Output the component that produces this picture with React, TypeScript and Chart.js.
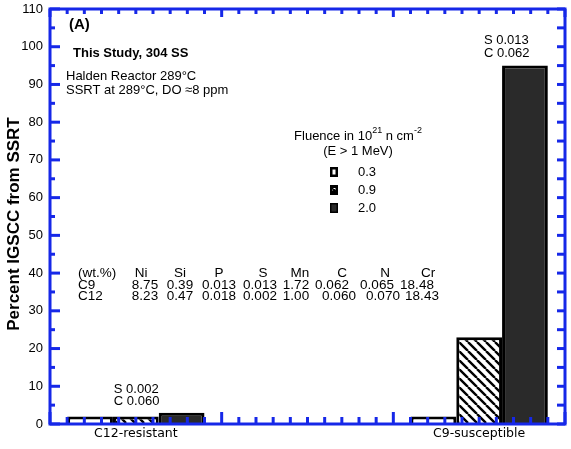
import React, { useEffect, useRef } from 'react';
import { Chart, registerables } from 'chart.js';

Chart.register(...registerables);

// ---------- data ----------
const categories = ['C12-resistant', '', 'C9-susceptible'];
const fluenceLabels = ['0.3', '0.9', '2.0'];
const igscc03 = [2, null, 2];
const igscc09 = [2, null, 23];
const igscc20 = [3, null, 95];
const yMin = 0;
const yMax = 110;
const yStep = 10;

const tableHeader = ['(wt.%)', 'Ni', 'Si', 'P', 'S', 'Mn', 'C', 'N', 'Cr'];
const tableC9 = ['C9', '8.75', '0.39', '0.013', '0.013', '1.72', '0.062', '0.065', '18.48'];
const tableC12 = ['C12', '8.23', '0.47', '0.018', '0.002', '1.00', '0.060', '0.070', '18.43'];
const noteC12 = ['S 0.002', 'C 0.060'];
const noteC9 = ['S 0.013', 'C 0.062'];
const panelLabel = '(A)';
const studyLabel = 'This Study, 304 SS';
const conditionLines = ['Halden Reactor 289°C', 'SSRT at 289°C, DO ≈8 ppm'];
const yTitle = 'Percent IGSCC from SSRT';

// ---------- styles ----------
const BLUE = 'rgb(22, 40, 232)';
const DARK = '#2a2a2a';
const FONT = '"Liberation Sans", Arial, Helvetica, sans-serif';

function makeHatch(): CanvasPattern | string {
  const c = document.createElement('canvas');
  const s = 9;
  c.width = s;
  c.height = s;
  const g = c.getContext('2d');
  if (!g) return '#fff';
  g.fillStyle = '#fff';
  g.fillRect(0, 0, s, s);
  g.strokeStyle = '#000';
  g.lineWidth = 2.4;
  g.beginPath();
  for (const off of [-s, 0, s]) {
    g.moveTo(off, 0);
    g.lineTo(off + s, s);
  }
  g.stroke();
  const p = g.createPattern(c, 'repeat');
  return p || '#fff';
}

export default function App() {
  const ref = useRef<HTMLCanvasElement | null>(null);

  useEffect(() => {
    const canvas = ref.current;
    if (!canvas) return;
    const hatch = makeHatch();

    const decor = {
      id: 'decor',
      afterDatasetsDraw(chart: any) {
        const { ctx, chartArea: a, scales } = chart;
        const xs = scales.x;
        const ys = scales.y;
        ctx.save();
        ctx.strokeStyle = BLUE;
        ctx.lineWidth = 3;
        const line = (x1: number, y1: number, x2: number, y2: number) => {
          ctx.beginPath();
          ctx.moveTo(x1, y1);
          ctx.lineTo(x2, y2);
          ctx.stroke();
        };
        for (let v = yMin; v <= yMax; v += yStep / 2) {
          const py = ys.getPixelForValue(v);
          const major = v % yStep === 0;
          line(a.left, py, a.left + (major ? 10 : 5), py);
          line(a.right, py, a.right - 8, py);
        }
        const n = categories.length * 10;
        for (let k = 0; k <= n; k++) {
          const px = xs.getPixelForDecimal(k / n);
          const major = k % 10 === 0;
          line(px, a.bottom, px, a.bottom - (major ? 12 : 7));
          line(px, a.top, px, a.top + (major ? 8 : 5));
        }
        ctx.strokeRect(a.left, a.top, a.right - a.left, a.bottom - a.top);
        ctx.restore();
      },
      afterDraw(chart: any) {
        const { ctx, scales } = chart;
        const ys = scales.y;
        ctx.save();
        ctx.fillStyle = '#000';
        ctx.textBaseline = 'middle';
        ctx.textAlign = 'left';

        // y title
        ctx.save();
        ctx.translate(14, 224);
        ctx.rotate(-Math.PI / 2);
        ctx.textAlign = 'center';
        ctx.font = `bold 17px ${FONT}`;
        ctx.fillText(yTitle, 0, 0);
        ctx.restore();

        ctx.font = `bold 15px ${FONT}`;
        ctx.fillText(panelLabel, 69, 25);
        ctx.font = `bold 13px ${FONT}`;
        ctx.fillText(studyLabel, 73, 53);
        ctx.font = `13px ${FONT}`;
        ctx.fillText(conditionLines[0], 66, 76);
        ctx.fillText(conditionLines[1], 66, 90);

        // legend title
        const big = `13px ${FONT}`;
        const small = `9px ${FONT}`;
        const parts: [string, boolean][] = [
          ['Fluence in 10', false],
          ['21', true],
          [' n cm', false],
          ['-2', true],
        ];
        let total = 0;
        for (const [t, sup] of parts) {
          ctx.font = sup ? small : big;
          total += ctx.measureText(t).width;
        }
        let lx = 358 - total / 2;
        for (const [t, sup] of parts) {
          ctx.font = sup ? small : big;
          ctx.fillText(t, lx, sup ? 131 : 136);
          lx += ctx.measureText(t).width;
        }
        ctx.font = big;
        ctx.textAlign = 'center';
        ctx.fillText('(E > 1 MeV)', 358, 151);
        ctx.textAlign = 'left';

        // legend items
        const fills = ['#fff', hatch, DARK];
        const ly = [172, 190, 208];
        fluenceLabels.forEach((lab, i) => {
          const bx = 330;
          const by = ly[i] - 5;
          ctx.fillStyle = '#000';
          ctx.fillRect(bx, by, 8, 10);
          ctx.fillStyle = fills[i] as any;
          if (i === 0) ctx.fillRect(bx + 2.5, by + 2.5, 3, 5);
          if (i === 1) ctx.fillRect(bx + 2.5, by + 3, 3, 3);
          if (i === 2) ctx.fillRect(bx + 1.5, by + 1.5, 5, 7);
          ctx.fillStyle = '#000';
          ctx.font = big;
          ctx.fillText(lab, 358, ly[i]);
        });

        // composition table
        ctx.font = `13.5px ${FONT}`;
        const colX = [0, 141, 180, 219, 263, 300, 342, 385, 428];
        const c9X = [0, 145, 180, 219, 260, 296, 332, 377, 417];
        const c12X = [0, 145, 180, 219, 260, 296, 339, 383, 422];
        const rows: [string[], number[], number][] = [
          [tableHeader, colX, 273.5],
          [tableC9, c9X, 285],
          [tableC12, c12X, 296.5],
        ];
        for (const [row, xsPos, yy] of rows) {
          row.forEach((t, j) => {
            if (j === 0) {
              ctx.textAlign = 'left';
              ctx.fillText(t, 78, yy);
            } else {
              ctx.textAlign = 'center';
              ctx.fillText(t, xsPos[j], yy);
            }
          });
        }

        // bar notes anchored to bars
        ctx.font = big;
        ctx.textAlign = 'left';
        const m20 = chart.getDatasetMeta(2);
        const m09 = chart.getDatasetMeta(1);
        const b12 = m09.data[0];
        const top12 = ys.getPixelForValue(igscc20[0] as number);
        ctx.fillText(noteC12[0], b12.x - 22, top12 - 23);
        ctx.fillText(noteC12[1], b12.x - 22, top12 - 11);
        const b9 = m20.data[2];
        const top9 = ys.getPixelForValue(igscc20[2] as number);
        ctx.fillText(noteC9[0], b9.x - 41, top9 - 25);
        ctx.fillText(noteC9[1], b9.x - 41, top9 - 12);
        ctx.restore();
      },
    };

    const chart = new Chart(canvas, {
      type: 'bar',
      data: {
        labels: categories,
        datasets: [
          {
            label: fluenceLabels[0],
            data: igscc03,
            backgroundColor: '#fff',
            borderColor: '#000',
            borderWidth: 3,
          },
          {
            label: fluenceLabels[1],
            data: igscc09,
            backgroundColor: hatch as any,
            borderColor: '#000',
            borderWidth: 3,
          },
          {
            label: fluenceLabels[2],
            data: igscc20,
            backgroundColor: DARK,
            borderColor: '#000',
            borderWidth: 3,
          },
        ],
      },
      options: {
        animation: false,
        responsive: true,
        maintainAspectRatio: false,
        datasets: { bar: { categoryPercentage: 0.8, barPercentage: 1.0 } },
        layout: { padding: { top: 9, right: 6, left: 0, bottom: 0 } },
        plugins: {
          legend: { display: false },
          tooltip: { enabled: false },
          title: { display: false },
        },
        scales: {
          x: {
            grid: { display: false, drawTicks: false },
            border: { display: false },
            ticks: {
              autoSkip: false,
              maxRotation: 0,
              padding: 2,
              color: '#000',
              font: { family: '"DejaVu Sans", Verdana, sans-serif', size: 12.5 },
            },
            afterFit: (s: any) => {
              s.height = 25;
              s.paddingLeft = 0;
              s.paddingRight = 0;
            },
          },
          y: {
            min: yMin,
            max: yMax,
            grid: { display: false, drawTicks: false },
            border: { display: false },
            ticks: {
              stepSize: yStep,
              padding: 7,
              color: '#000',
              font: { family: FONT, size: 13 },
            },
            afterFit: (s: any) => {
              s.width = 50;
              s.paddingTop = 0;
              s.paddingBottom = 0;
            },
          },
        },
      },
      plugins: [decor],
    });

    return () => chart.destroy();
  }, []);

  return (
    <div style={{ position: 'absolute', left: 0, top: 0, width: 571, height: 449, background: '#fff' }}>
      <canvas ref={ref} />
    </div>
  );
}
